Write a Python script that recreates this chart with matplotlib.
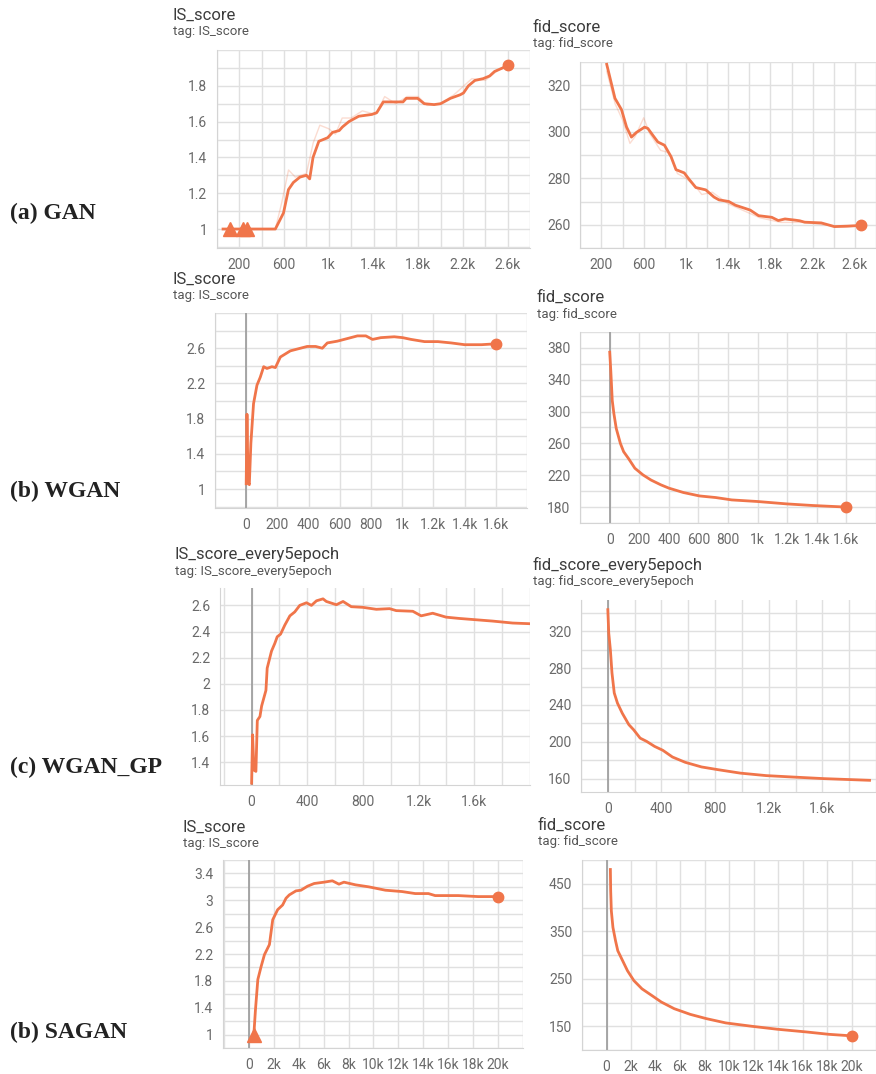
import matplotlib.pyplot as plt
from matplotlib.ticker import FuncFormatter

# ---- (a) GAN ----
gan_is_step = [54, 300, 522, 595, 639, 683, 742, 800, 829, 859, 911, 990, 1034, 1093, 1122, 1180,
               1268, 1385, 1429, 1488, 1561, 1664, 1693, 1795, 1854, 1942, 2000, 2059, 2088, 2176,
               2205, 2249, 2307, 2381, 2439, 2483, 2556, 2600]
gan_is_val = [1.0, 1.0, 1.0, 1.09, 1.22, 1.26, 1.29, 1.30, 1.28, 1.40, 1.49, 1.51, 1.54, 1.55, 1.57, 1.60,
              1.63, 1.64, 1.65, 1.71, 1.71, 1.71, 1.73, 1.73, 1.70, 1.695, 1.70, 1.72, 1.73, 1.75,
              1.76, 1.80, 1.83, 1.84, 1.855, 1.88, 1.90, 1.915]
gan_is_raw_step = [522, 580, 640, 700, 800, 860, 920, 1000, 1060, 1120, 1200, 1300, 1420, 1500, 1600,
                   1700, 1800, 1880, 2000, 2120, 2280, 2400, 2500, 2600]
gan_is_raw_val = [1.0, 1.15, 1.33, 1.29, 1.31, 1.48, 1.58, 1.56, 1.53, 1.62, 1.62, 1.66, 1.64, 1.74, 1.70,
                  1.74, 1.74, 1.69, 1.70, 1.75, 1.84, 1.83, 1.88, 1.92]
gan_is_warn = [112, 229, 267]

gan_fid_step = [250, 328, 390, 438, 484, 531, 609, 640, 688, 734, 797, 859, 906, 984, 1031, 1094, 1188,
                1266, 1313, 1406, 1469, 1563, 1609, 1688, 1813, 1875, 1938, 2031, 2078, 2125, 2281,
                2344, 2406, 2531, 2656]
gan_fid_val = [329, 314.4, 309.5, 302, 297.7, 299.7, 302, 301.4, 298.4, 295.6, 294.2, 289.3, 283.7,
               282.3, 279.5, 276, 275, 271.9, 270.7, 270, 268.4, 267, 266.3, 263.9, 263.2, 261.8,
               262.5, 262, 261.7, 261.1, 260.8, 260, 259.2, 259.4, 259.7]
gan_fid_raw_step = [250, 330, 400, 470, 520, 600, 660, 760, 840, 920, 1000, 1100, 1150, 1250, 1400,
                    1550, 1700, 1900, 2100, 2300, 2500, 2656]
gan_fid_raw_val = [326, 312, 305, 295, 298, 306, 299, 292, 291, 282, 280, 276, 273, 274, 269,
                   266, 263, 261, 261, 260, 259, 259.7]

# ---- (b) WGAN ----
wgan_is_step = [0, 5, 12, 20, 30, 47, 69, 90, 112, 133, 165, 187, 219, 283, 348, 391, 445, 488, 520,
                584, 649, 713, 767, 810, 863, 949, 1003, 1057, 1143, 1229, 1314, 1400, 1508, 1600]
wgan_is_val = [1.06, 1.85, 1.08, 1.05, 1.52, 1.97, 2.18, 2.27, 2.39, 2.37, 2.39, 2.38, 2.50, 2.57,
               2.60, 2.62, 2.62, 2.60, 2.66, 2.68, 2.71, 2.74, 2.74, 2.70, 2.72, 2.73, 2.72, 2.70,
               2.675, 2.675, 2.66, 2.64, 2.64, 2.65]
wgan_fid_step = [0, 7, 17, 28, 44, 72, 94, 127, 170, 225, 279, 345, 400, 498, 607, 716, 825, 1000,
                 1197, 1371, 1600]
wgan_fid_val = [374.6, 351.7, 314, 297.5, 278.8, 260, 249.6, 241, 228.8, 220.4, 214, 208, 203.8,
                198.3, 194, 192, 189, 187, 184, 182, 180]

# ---- (c) WGAN_GP ----
wgangp_is_step = [0, 7, 17, 31, 41, 60, 72, 103, 112, 143, 167, 184, 208, 239, 275, 310, 346, 394,
                  430, 466, 513, 537, 609, 657, 716, 800, 896, 991, 1039, 1158, 1218, 1301, 1397,
                  1493, 1612, 1731, 1875, 1994]
wgangp_is_val = [1.24, 1.61, 1.34, 1.33, 1.72, 1.75, 1.83, 1.95, 2.12, 2.25, 2.31, 2.36, 2.38, 2.45,
                 2.52, 2.55, 2.60, 2.62, 2.60, 2.635, 2.65, 2.63, 2.605, 2.63, 2.59, 2.585, 2.57,
                 2.575, 2.56, 2.555, 2.52, 2.54, 2.51, 2.50, 2.49, 2.48, 2.465, 2.46]
wgangp_fid_step = [0, 7, 19, 31, 48, 72, 108, 157, 193, 241, 289, 349, 410, 482, 578, 699, 819, 988,
                   1181, 1374, 1615, 1952]
wgangp_fid_val = [343.5, 318, 300, 274.8, 253, 242, 231, 218.6, 213, 204, 200.5, 195, 190.8, 183.5,
                  177.7, 172.7, 169.8, 166, 163.3, 161.8, 160, 158.2]

# ---- (d) SAGAN ----
sagan_is_step = [400, 530, 720, 980, 1250, 1650, 1915, 2310, 2710, 2980, 3245, 3780, 4180, 4710, 5240,
                 6040, 6700, 7230, 7630, 8560, 9630, 10960, 12290, 13350, 14410, 14950, 16810,
                 18400, 20000]
sagan_is_val = [1.0, 1.37, 1.82, 2.01, 2.19, 2.34, 2.71, 2.86, 2.93, 3.03, 3.08, 3.14, 3.15, 3.21,
                3.25, 3.27, 3.29, 3.24, 3.27, 3.23, 3.20, 3.15, 3.13, 3.10, 3.10, 3.07, 3.07, 3.055,
                3.055]
sagan_is_warn = [400]
sagan_fid_step = [316, 342, 395, 526, 737, 921, 1316, 1710, 2237, 2895, 3684, 4474, 5526, 6842, 8158,
                  9737, 11842, 13947, 16316, 18158, 20000]
sagan_fid_val = [480, 434.7, 392.8, 358, 330, 309, 288, 267, 246, 228.8, 215, 201, 187, 175, 166,
                 157, 150, 143.7, 138, 133, 129.8]

row_labels = ['(a) GAN', '(b) WGAN', '(c) WGAN_GP', '(b) SAGAN']

ORANGE = '#f0754a'
W, H = 876, 1074
fig = plt.figure(figsize=(W / 100, H / 100), dpi=100)


def k_fmt(v, pos=None):
    if abs(v) >= 1000:
        return '{:g}k'.format(round(v / 1000, 3))
    return '{:g}'.format(round(v, 3))


def frange(a, b, s):
    out, v = [], a
    while v <= b + s * 1e-6:
        out.append(round(v, 4))
        v += s
    return out


def panel(box, xlim, ylim, xlab, xgrid, ylab, ygrid, zero_line=False):
    l, t, r, b = box
    ax = fig.add_axes([l / W, 1 - b / H, (r - l) / W, (b - t) / H])
    ax.set_xlim(xlim)
    ax.set_ylim(ylim)
    ax.set_xticks(xlab)
    ax.set_yticks(ylab)
    ax.set_xticks(xgrid, minor=True)
    ax.set_yticks(ygrid, minor=True)
    ax.xaxis.set_major_formatter(FuncFormatter(k_fmt))
    ax.yaxis.set_major_formatter(FuncFormatter(k_fmt))
    ax.tick_params(which='both', length=0, labelsize=10, labelcolor='#6a6a6a', pad=7)
    for lab in ax.get_xticklabels() + ax.get_yticklabels():
        lab.set_fontfamily('Roboto')
    ax.grid(True, which='both', color='#e0e0e0', lw=1)
    ax.set_axisbelow(True)
    for s in ['top', 'right']:
        ax.spines[s].set_visible(False)
    for s in ['left', 'bottom']:
        ax.spines[s].set_color('#d4d4d4')
    if zero_line:
        ax.axvline(0, color='#9a9a9a', lw=1.2, zorder=1)
    return ax


def titles(x, y, name):
    fig.text(x / W, 1 - y / H, name, fontsize=12, color='#3c3c3c', family='Roboto', va='center')
    fig.text(x / W, 1 - (y + 17) / H, 'tag: ' + name, fontsize=9.5, color='#555555', family='Roboto',
             va='center')


def curve(ax, xs, ys, dot=True):
    ax.plot(xs, ys, color=ORANGE, lw=2, zorder=3, solid_joinstyle='round')
    if dot:
        ax.plot(xs[-1], ys[-1], 'o', color=ORANGE, ms=7.5, zorder=4)


# (a) GAN
ax = panel((217, 50, 530, 248), (16, 2758), (0.894, 1.994),
           frange(200, 2600, 400), frange(0, 2800, 200), frange(1, 1.8, 0.2), frange(0.9, 2.0, 0.1))
ax.plot(gan_is_raw_step, gan_is_raw_val, color=ORANGE, lw=1, alpha=0.25, zorder=2)
curve(ax, gan_is_step, gan_is_val)
ax.plot(gan_is_warn, [1.0] * len(gan_is_warn), '^', color=ORANGE, ms=10, zorder=4)
titles(173, 15, 'IS_score')

ax = panel((580, 62, 876, 248), (-3, 2765), (251, 330),
           frange(200, 2600, 400), frange(0, 2800, 200), frange(260, 320, 20), frange(250, 330, 10))
ax.plot(gan_fid_raw_step, gan_fid_raw_val, color=ORANGE, lw=1, alpha=0.25, zorder=2)
curve(ax, gan_fid_step, gan_fid_val)
titles(533, 27, 'fid_score')

# (b) WGAN
ax = panel((215, 313, 527, 508), (-200, 1790), (0.785, 2.99),
           frange(0, 1600, 200), frange(-200, 1800, 200), frange(1, 2.6, 0.4), frange(0.8, 3.0, 0.2),
           zero_line=True)
curve(ax, wgan_is_step, wgan_is_val)
titles(173, 279, 'IS_score')

ax = panel((580, 332, 876, 523), (-201, 1742), (160, 400),
           frange(0, 1600, 200), frange(-200, 1800, 200), frange(180, 380, 40), frange(160, 400, 20),
           zero_line=True)
curve(ax, wgan_fid_step, wgan_fid_val)
titles(537, 297, 'fid_score')

# (c) WGAN_GP
ax = panel((220, 588, 530, 785), (-227, 1994), (1.226, 2.733),
           frange(0, 1600, 400), frange(-200, 2000, 200), frange(1.4, 2.6, 0.2), frange(1.4, 2.6, 0.2),
           zero_line=True)
curve(ax, wgangp_is_step, wgangp_is_val, dot=False)
titles(175, 554, 'IS_score_every5epoch')

ax = panel((581, 600, 876, 792), (-188, 1952), (145.5, 354),
           frange(0, 1600, 400), frange(-200, 2000, 200), frange(160, 320, 40), frange(160, 340, 20),
           zero_line=True)
curve(ax, wgangp_fid_step, wgangp_fid_val, dot=False)
titles(533, 565, 'fid_score_every5epoch')

# (d) SAGAN
ax = panel((223, 860, 523, 1048), (-2075, 21860), (0.8, 3.6),
           frange(0, 20000, 2000), frange(-2000, 22000, 2000), frange(1, 3.4, 0.4), frange(0.8, 3.6, 0.2),
           zero_line=True)
curve(ax, sagan_is_step, sagan_is_val)
ax.plot(sagan_is_warn, [1.0] * len(sagan_is_warn), '^', color=ORANGE, ms=10, zorder=4)
titles(183, 827, 'IS_score')

ax = panel((582, 860, 876, 1050), (-1970, 21300), (100, 497),
           frange(0, 20000, 2000), frange(-2000, 22000, 2000), frange(150, 450, 100), frange(100, 500, 50),
           zero_line=True)
curve(ax, sagan_fid_step, sagan_fid_val)
titles(538, 825, 'fid_score')

# row labels
for label, y in zip(row_labels, [213, 491, 767, 1032]):
    fig.text(10 / W, 1 - y / H, label, fontsize=17, fontweight='bold', family='Liberation Serif',
             color='#222222', va='center')

fig.savefig('out.png', dpi=100)
